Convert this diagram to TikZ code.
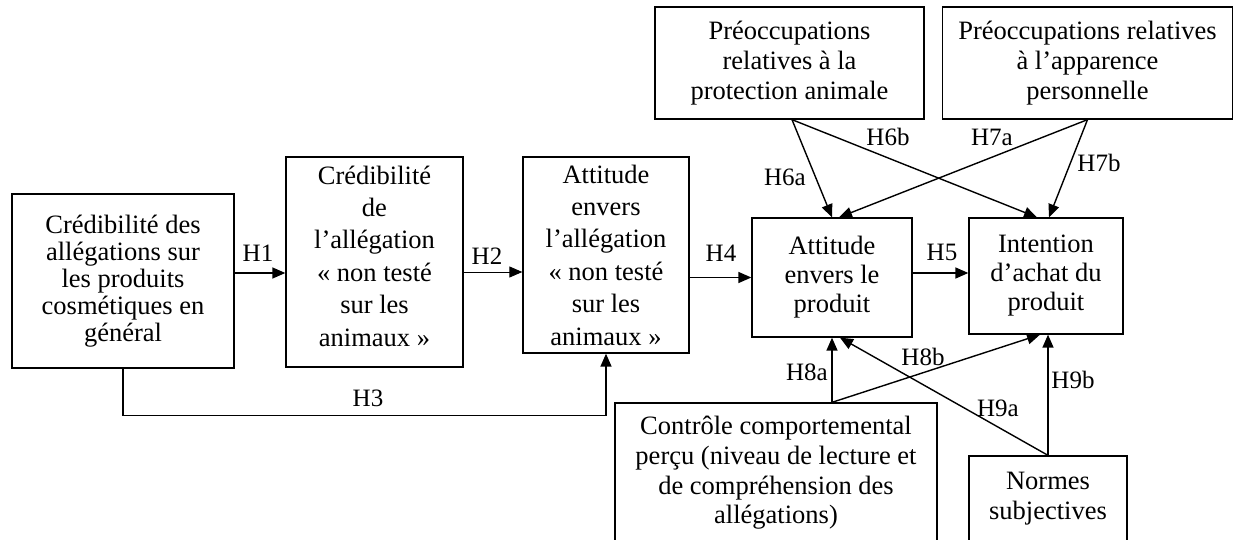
\documentclass[tikz,border=0pt]{standalone}
\usepackage{fontspec}
\setmainfont{Liberation Serif}
\usetikzlibrary{arrows.meta}
\begin{document}
\begin{tikzpicture}[x=1pt,y=-1pt,
  box/.style={draw, line width=1.3pt, inner sep=0pt, align=center, font=\fontsize{26.5}{30}\selectfont},
  txt/.style={inner sep=0pt, align=center},
  arr/.style={line width=1.4pt, -{Triangle[length=13pt,width=11pt]}},
  lab/.style={inner sep=0pt, font=\fontsize{25}{28}\selectfont}]
\useasboundingbox (0,0) rectangle (1234,540);
% boxes
\node[box, minimum width=222pt, minimum height=174pt, font=\fontsize{26.5}{27}\selectfont] (A) at (123,281)
  {Crédibilité des\\allégations sur\\les produits\\cosmétiques en\\général};
\node[box, minimum width=177pt, minimum height=210pt] (B) at (374.5,262) {};
\node[txt, font=\fontsize{26.5}{32.4}\selectfont] (Bt) at (374.5,256)
  {Crédibilité\\de\\l’allégation\\«~non testé\\sur les\\animaux~»};
\node[box, minimum width=166pt, minimum height=196pt, font=\fontsize{26.5}{32.4}\selectfont] (C) at (606,255)
  {Attitude\\envers\\l’allégation\\«~non testé\\sur les\\animaux~»};
\node[box, minimum width=160pt, minimum height=119pt, font=\fontsize{26.5}{29}\selectfont] (D) at (832,277.5)
  {Attitude\\envers le\\produit};
\node[box, minimum width=154pt, minimum height=116pt, font=\fontsize{26.5}{29}\selectfont] (E) at (1046,276)
  {Intention\\d’achat du\\produit};
\node[box, minimum width=269pt, minimum height=112pt] (F) at (789.5,63)
  {Préoccupations\\relatives à la\\protection animale};
\node[box, minimum width=290pt, minimum height=112pt] (G) at (1087.5,63)
  {Préoccupations relatives\\à l’apparence\\personnelle};
\node[box, minimum width=322pt, minimum height=140pt, font=\fontsize{26.5}{29.7}\selectfont] (H) at (776,473)
  {Contrôle comportemental\\perçu (niveau de lecture et\\de compréhension des\\allégations)};
\node[box, minimum width=158pt, minimum height=86pt] (I) at (1048,499)
  {Normes\\subjectives};
% connectors
\draw[arr] ([yshift=8pt]A.east) -- ([yshift=-11pt]B.west);
\draw[arr, line width=1pt] ([yshift=-10pt]B.east) -- ([yshift=-17pt]C.west);
\draw[arr] (A.south) -- ++(0,47) -| (C.south);
\draw[arr] ([yshift=-22.5pt]C.east) -- (D.west);
\draw[arr] ([yshift=4.5pt]D.east) -- ([yshift=3pt]E.west);
\draw[arr] ([xshift=2.5pt]F.south) -- (D.north);
\draw[arr] ([xshift=2.5pt]F.south) -- ([xshift=-9pt]E.north);
\draw[arr] (G.south) -- ([xshift=7pt]D.north);
\draw[arr] (G.south) -- ([xshift=3pt]E.north);
\draw[arr] ([xshift=56pt]H.north) -- (D.south);
\draw[arr] ([xshift=56pt]H.north) -- ([xshift=-6pt]E.south);
\draw[arr] (I.north) -- ([xshift=8pt]D.south);
\draw[arr] (I.north) -- (I.north |- E.south);
% labels
\node[lab] (l1) at (258,253) {H1};
\node[lab] (l2) at (487,256) {H2};
\node[lab] (l3) at (368,398) {H3};
\node[lab] (l4) at (721,253) {H4};
\node[lab] (l5) at (942,252) {H5};
\node[lab] (l6a) at (785,177) {H6a};
\node[lab] (l6b) at (888,137) {H6b};
\node[lab] (l7a) at (992,137) {H7a};
\node[lab] (l7b) at (1099,163) {H7b};
\node[lab] (l8a) at (807,372) {H8a};
\node[lab] (l8b) at (923,357) {H8b};
\node[lab] (l9a) at (998,408) {H9a};
\node[lab] (l9b) at (1073,380) {H9b};
\end{tikzpicture}
\end{document}
